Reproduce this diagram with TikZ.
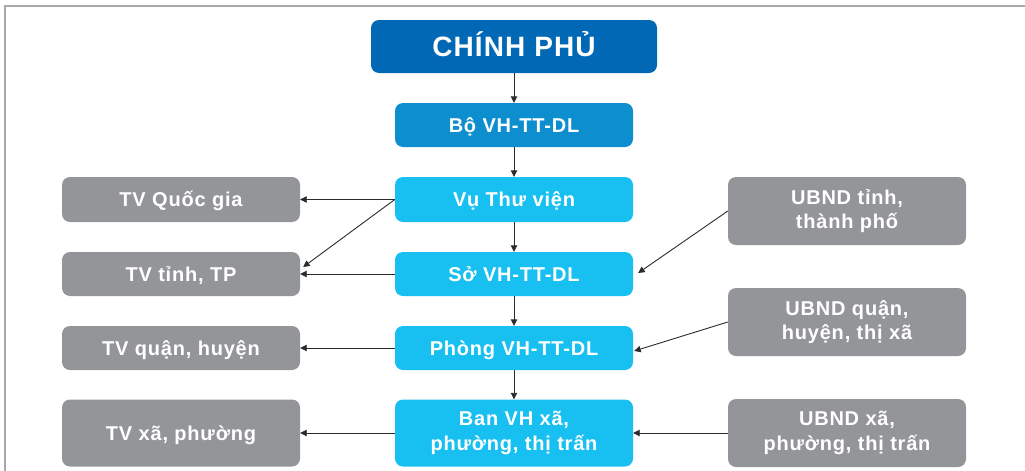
\documentclass[tikz,border=0pt]{standalone}
\usepackage{fontspec}
\setmainfont{Liberation Sans}
\newfontfamily\boxfont[LetterSpace=4]{Liberation Sans}
\usetikzlibrary{arrows.meta,calc}
\definecolor{cpblue}{HTML}{0068B4}
\definecolor{boblue}{HTML}{0D8ECF}
\definecolor{ltblue}{HTML}{17C0F0}
\definecolor{boxgray}{HTML}{939598}
\definecolor{framegray}{HTML}{A7A9AC}
\definecolor{linecol}{HTML}{2B2B2B}
\tikzset{
  box/.style={rounded corners=8pt, text=white, font=\boxfont\bfseries\fontsize{20}{24.5}\selectfont, align=center, inner sep=0pt, minimum width=238pt},
  oneline/.style={text height=16pt, text depth=2pt},
  cpbox/.style={box, fill=cpblue, minimum width=286pt, minimum height=53pt, font=\boxfont\bfseries\fontsize{28}{32}\selectfont, text height=22pt, text depth=2pt},
  bobox/.style={box, fill=boblue},
  ltbox/.style={box, fill=ltblue},
  graybox/.style={box, fill=boxgray},
  conn/.style={draw=linecol, line width=0.9pt, -{Triangle[length=6.5pt,width=6.5pt]}},
}
\begin{document}
\begin{tikzpicture}[x=1pt,y=-1pt]
\useasboundingbox (0,0) rectangle (1025,471);
\draw[framegray, line width=2pt] (5,471) -- (5,6) -- (1025,6);

\node[cpbox] (cp) at (514,46.5) {CHÍNH PHỦ};
\node[bobox, oneline, minimum height=44pt] (bo) at (514,125) {Bộ VH-TT-DL};
\node[ltbox, oneline, minimum height=45pt] (vu) at (514,199.5) {Vụ Thư viện};
\node[ltbox, oneline, minimum height=44pt] (so) at (514,274) {Sở VH-TT-DL};
\node[ltbox, oneline, minimum height=44pt] (ph) at (514,348) {Phòng VH-TT-DL};
\node[ltbox, minimum height=67pt] (ban) at (514,433) {Ban VH xã,\\phường, thị trấn};

\node[graybox, oneline, minimum height=45pt] (tvqg) at (181,199.5) {TV Quốc gia};
\node[graybox, oneline, minimum height=44pt] (tvt) at (181,274) {TV tỉnh, TP};
\node[graybox, oneline, minimum height=44pt] (tvq) at (181,348) {TV quận, huyện};
\node[graybox, oneline, minimum height=67pt] (tvx) at (181,433) {TV xã, phường};

\node[graybox, minimum height=68pt] (ub1) at (847,211) {UBND tỉnh,\\thành phố};
\node[graybox, minimum height=68pt] (ub2) at (847,322) {UBND quận,\\huyện, thị xã};
\node[graybox, minimum height=68pt] (ub3) at (847,433) {UBND xã,\\phường, thị trấn};

\coordinate (tvtin) at ($(tvt.east)+(3,-7)$);
\coordinate (soin) at ($(so.east)+(5,-1)$);
\coordinate (phin) at ($(ph.east)+(1,3)$);

\draw[conn] (cp) -- (bo);
\draw[conn] (bo) -- (vu);
\draw[conn] (vu) -- (so);
\draw[conn] (so) -- (ph);
\draw[conn] (ph) -- (ban);

\draw[conn] (vu.west) -- (tvqg.east);
\draw[conn] (vu.west) -- (tvtin);
\draw[conn] (so.west) -- (tvt.east);
\draw[conn] (ph.west) -- (tvq.east);
\draw[conn] (ban.west) -- (tvx.east);

\draw[conn] (ub1.west) -- (soin);
\draw[conn] (ub2.west) -- (phin);
\draw[conn] (ub3.west) -- (ban.east);
\end{tikzpicture}
\end{document}
